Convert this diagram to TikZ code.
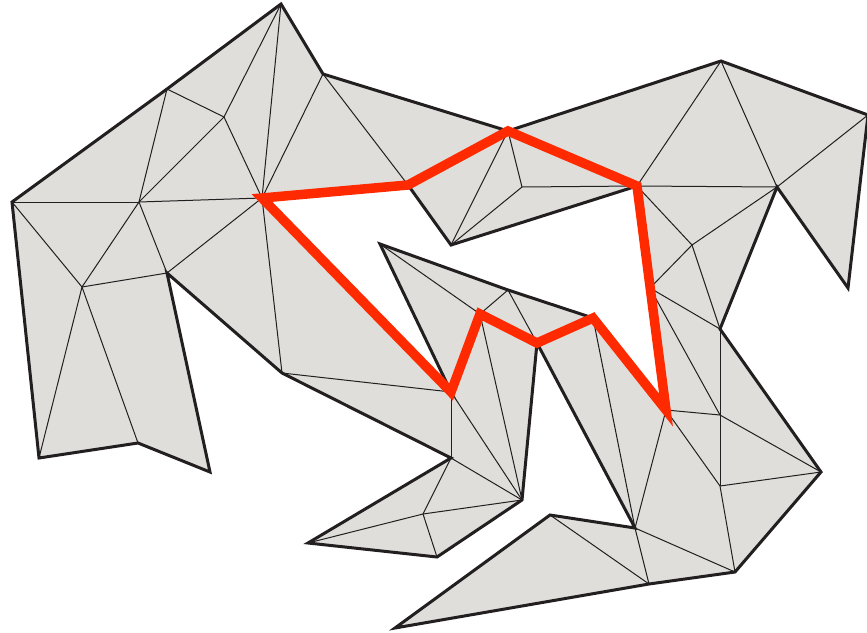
\documentclass[tikz,border=0pt]{standalone}
\usepackage{xcolor}
\usepackage{tikz}
\definecolor{facegray}{RGB}{223,222,219}
\definecolor{edgeblack}{RGB}{35,31,32}
\definecolor{pathred}{RGB}{255,42,0}
\begin{document}
\begin{tikzpicture}[x=1pt, y=-1pt,
  face/.style={fill=facegray},
  diag/.style={draw=edgeblack, line width=1pt},
  rim/.style={draw=edgeblack, line width=3pt, line join=miter},
  route/.style={draw=pathred, line width=9.5pt, line join=miter}
]
\useasboundingbox (0,0) rectangle (867,632);
\clip (0,0) rectangle (867,632);
% outer rim
\coordinate (A) at (12,202);
\coordinate (B) at (167,89);
\coordinate (C) at (281,4);
\coordinate (D) at (323,74);
\coordinate (E) at (508,131);
\coordinate (F) at (721,61);
\coordinate (G) at (868,115);
\coordinate (H) at (848,288);
\coordinate (I) at (777,187);
\coordinate (J) at (720,329);
\coordinate (K) at (821,472);
\coordinate (L) at (735,572);
\coordinate (M) at (649,584);
\coordinate (N) at (395,628);
\coordinate (O) at (550,515);
\coordinate (P) at (635,528);
\coordinate (Q) at (537,343);
\coordinate (R) at (522,500);
\coordinate (S) at (437,557);
\coordinate (T) at (308,543);
\coordinate (U) at (451,458);
\coordinate (V) at (282,373);
\coordinate (W) at (167,273);
\coordinate (X) at (210,472);
\coordinate (Y) at (138,443);
\coordinate (Z) at (39,458);
% inner points
\coordinate (P1) at (224,117);
\coordinate (P2) at (139,202);
\coordinate (P3) at (82,287);
\coordinate (P4) at (522,187);
\coordinate (P5) at (480,314);
\coordinate (P7) at (692,245);
\coordinate (P9) at (720,415);
\coordinate (P10) at (423,514);
\coordinate (P12) at (720,486);
% hole rim
\coordinate (H1) at (262,198);
\coordinate (H2) at (408,185);
\coordinate (H3) at (451,245);
\coordinate (H4) at (637,186);
\coordinate (P8) at (650,288);
\coordinate (H5) at (666,410);
\coordinate (H6) at (593,318);
\coordinate (P6) at (508,290);
\coordinate (H7) at (380,244);
\coordinate (H8) at (451,392);

\fill[face, even odd rule]
  (A) -- (B) -- (C) -- (D) -- (E) -- (F) -- (G) -- (H) -- (I) -- (J) -- (K) -- (L) -- (M)
  -- (N) -- (O) -- (P) -- (Q) -- (R) -- (S) -- (T) -- (U) -- (V) -- (W) -- (X) -- (Y) -- (Z) -- cycle
  (H1) -- (H2) -- (H3) -- (H4) -- (P8) -- (H5) -- (H6) -- (P6) -- (H7) -- (H8) -- cycle;

\foreach \a/\b in {B/P1, B/P2, C/P1, C/H1, P1/P2, P1/H1, D/H1, D/H2, A/P2, P2/H1,
  A/P3, P2/P3, P2/W, W/H1, P3/W, P3/Z, P3/Y, H1/V, V/H8, H8/U, U/R, U/P10,
  P10/R, P10/S, P10/T, H8/R, P5/R, H7/P5, P5/P6, P6/Q, H1/H2, H2/E, E/H3, E/P4,
  P4/H3, P4/H4, H4/I, F/H4, F/I, I/G, H4/P7, I/P7, P7/P8, P7/J, P8/J, P8/P9,
  J/P9, H5/P9, P9/K, H5/P12, P9/P12, P12/K, P12/L, P/H5, P/H6, P/L, P/M, O/M}
  \draw[diag] (\a) -- (\b);

\draw[rim] (A) -- (B) -- (C) -- (D) -- (E) -- (F) -- (G) -- (H) -- (I) -- (J) -- (K) -- (L) -- (M)
  -- (N) -- (O) -- (P) -- (Q) -- (R) -- (S) -- (T) -- (U) -- (V) -- (W) -- (X) -- (Y) -- (Z) -- cycle;
\draw[rim] (H1) -- (H2) -- (H3) -- (H4) -- (P8) -- (H5) -- (H6) -- (P6) -- (H7) -- (H8) -- cycle;

\draw[route] (H1) -- (H2) -- (E) -- (H4) -- (H5) -- (H6) -- (Q) -- (P5) -- (H8) -- cycle;
\end{tikzpicture}
\end{document}
